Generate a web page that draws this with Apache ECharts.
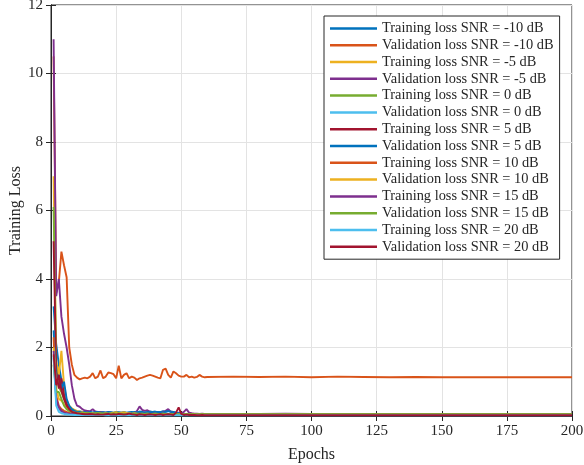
<!DOCTYPE html>
<html>
<head>
<meta charset="utf-8">
<script src="https://cdn.jsdelivr.net/npm/echarts@6/dist/echarts.min.js"></script>
<style>
  html, body { margin: 0; padding: 0; background: #fff; }
  #chart { width: 584px; height: 465px; }
</style>
</head>
<body>
<div id="chart"></div>
<script>
// epochs 1..60, then every 10 up to 200
var epochs = [
  1, 2, 3, 4, 5, 6, 7, 8, 9, 10,
  11, 12, 13, 14, 15, 16, 17, 18, 19, 20,
  21, 22, 23, 24, 25, 26, 27, 28, 29, 30,
  31, 32, 33, 34, 35, 36, 37, 38, 39, 40,
  41, 42, 43, 44, 45, 46, 47, 48, 49, 50,
  51, 52, 53, 54, 55, 56, 57, 58, 59, 60,
  70, 80, 90, 100, 110, 120, 130, 140, 150, 160, 170, 180, 190, 200
];

var xTicks = [0, 25, 50, 75, 100, 125, 150, 175, 200];
var yTicks = [0, 2, 4, 6, 8, 10, 12];

var names = [
  'Training loss SNR = -10 dB', 'Validation loss SNR = -10 dB',
  'Training loss SNR = -5 dB', 'Validation loss SNR = -5 dB',
  'Training loss SNR = 0 dB', 'Validation loss SNR = 0 dB',
  'Training loss SNR = 5 dB', 'Validation loss SNR = 5 dB',
  'Training loss SNR = 10 dB', 'Validation loss SNR = 10 dB',
  'Training loss SNR = 15 dB', 'Validation loss SNR = 15 dB',
  'Training loss SNR = 20 dB', 'Validation loss SNR = 20 dB'
];

// matlab default line colours, cycled
var colors = ['#0072BD', '#D95319', '#EDB120', '#7E2F8E', '#77AC30', '#4DBEEE', '#A2142F',
              '#0072BD', '#D95319', '#EDB120', '#7E2F8E', '#77AC30', '#4DBEEE', '#A2142F'];

var trainM10 = [
  3.2, 2.1, 1.5, 1.05, 0.6, 0.4, 0.28, 0.2, 0.16, 0.14,
  0.13, 0.12, 0.12, 0.11, 0.11, 0.1, 0.12, 0.1, 0.1, 0.09,
  0.1, 0.09, 0.1, 0.09, 0.08, 0.1, 0.09, 0.09, 0.08, 0.09,
  0.1, 0.12, 0.1, 0.13, 0.12, 0.1, 0.11, 0.13, 0.12, 0.1,
  0.12, 0.11, 0.14, 0.12, 0.15, 0.13, 0.12, 0.1, 0.08, 0.07,
  0.06, 0.06, 0.05, 0.05, 0.05, 0.05, 0.04, 0.05, 0.04, 0.04,
  0.04, 0.04, 0.03, 0.04, 0.03, 0.03, 0.03, 0.03, 0.03, 0.03, 0.03, 0.03, 0.03, 0.03
];
var valM10 = [
  10.5, 3.6, 3.9, 4.8, 4.4, 4.05, 2.0, 1.5, 1.2, 1.12,
  1.07, 1.1, 1.12, 1.1, 1.15, 1.25, 1.1, 1.15, 1.33, 1.1,
  1.15, 1.27, 1.25, 1.22, 1.1, 1.47, 1.1, 1.2, 1.25, 1.1,
  1.15, 1.12, 1.05, 1.1, 1.12, 1.15, 1.18, 1.2, 1.18, 1.15,
  1.12, 1.1, 1.35, 1.38, 1.2, 1.12, 1.3, 1.25, 1.18, 1.15,
  1.15, 1.2, 1.13, 1.15, 1.12, 1.14, 1.2, 1.15, 1.13, 1.14,
  1.15, 1.14, 1.15, 1.13, 1.15, 1.14, 1.13, 1.14, 1.13, 1.13, 1.13, 1.13, 1.13, 1.13
];
var trainM5 = [
  7.0, 1.6, 1.2, 1.9, 0.9, 0.45, 0.3, 0.22, 0.18, 0.15,
  0.13, 0.12, 0.1, 0.1, 0.09, 0.08, 0.08, 0.07, 0.07, 0.06,
  0.07, 0.06, 0.06, 0.07, 0.08, 0.06, 0.05, 0.06, 0.08, 0.06,
  0.05, 0.06, 0.05, 0.05, 0.06, 0.07, 0.06, 0.05, 0.06, 0.05,
  0.05, 0.05, 0.06, 0.05, 0.05, 0.06, 0.05, 0.04, 0.05, 0.04,
  0.04, 0.05, 0.04, 0.04, 0.05, 0.04, 0.04, 0.04, 0.04, 0.04,
  0.04, 0.05, 0.04, 0.04, 0.04, 0.05, 0.04, 0.04, 0.04, 0.04, 0.04, 0.04, 0.04, 0.04
];
var valM5 = [
  11.0, 3.5, 4.0, 2.9, 2.4, 2.0, 1.5, 0.9, 0.5, 0.3,
  0.27, 0.2, 0.16, 0.15, 0.14, 0.2, 0.13, 0.12, 0.12, 0.11,
  0.1, 0.11, 0.1, 0.09, 0.1, 0.09, 0.1, 0.09, 0.08, 0.08,
  0.07, 0.08, 0.15, 0.28, 0.18, 0.15, 0.17, 0.12, 0.1, 0.09,
  0.08, 0.1, 0.12, 0.15, 0.2, 0.12, 0.1, 0.08, 0.1, 0.08,
  0.12, 0.2, 0.1, 0.08, 0.07, 0.07, 0.06, 0.07, 0.06, 0.06,
  0.06, 0.06, 0.07, 0.06, 0.06, 0.06, 0.06, 0.05, 0.06, 0.05, 0.05, 0.05, 0.05, 0.05
];
var train0 = [
  6.1, 1.4, 0.85, 0.7, 0.5, 0.3, 0.2, 0.15, 0.12, 0.1,
  0.09, 0.08, 0.08, 0.07, 0.07, 0.06, 0.06, 0.06, 0.05, 0.05,
  0.05, 0.05, 0.06, 0.05, 0.05, 0.04, 0.05, 0.05, 0.04, 0.05,
  0.04, 0.04, 0.05, 0.04, 0.04, 0.05, 0.04, 0.04, 0.04, 0.04,
  0.04, 0.04, 0.05, 0.04, 0.04, 0.04, 0.04, 0.03, 0.04, 0.03,
  0.03, 0.04, 0.03, 0.03, 0.03, 0.03, 0.03, 0.03, 0.03, 0.03,
  0.03, 0.03, 0.03, 0.03, 0.03, 0.03, 0.03, 0.03, 0.03, 0.03, 0.03, 0.03, 0.03, 0.03
];
var val0 = [
  1.75, 0.4, 0.2, 0.12, 0.09, 0.07, 0.06, 0.05, 0.05, 0.04,
  0.04, 0.04, 0.04, 0.03, 0.04, 0.03, 0.03, 0.04, 0.03, 0.03,
  0.03, 0.03, 0.04, 0.03, 0.03, 0.03, 0.03, 0.03, 0.03, 0.03,
  0.03, 0.03, 0.03, 0.03, 0.03, 0.03, 0.03, 0.03, 0.03, 0.03,
  0.03, 0.03, 0.03, 0.03, 0.03, 0.03, 0.03, 0.03, 0.03, 0.03,
  0.03, 0.03, 0.03, 0.03, 0.03, 0.03, 0.03, 0.03, 0.03, 0.03,
  0.03, 0.03, 0.03, 0.03, 0.03, 0.03, 0.03, 0.03, 0.03, 0.03, 0.03, 0.03, 0.03, 0.03
];
var train5 = [
  5.1, 1.3, 0.8, 1.1, 0.6, 0.35, 0.22, 0.15, 0.12, 0.1,
  0.09, 0.08, 0.08, 0.07, 0.07, 0.06, 0.06, 0.06, 0.05, 0.05,
  0.05, 0.06, 0.05, 0.05, 0.05, 0.05, 0.06, 0.05, 0.05, 0.04,
  0.05, 0.04, 0.04, 0.05, 0.04, 0.04, 0.05, 0.04, 0.04, 0.04,
  0.05, 0.04, 0.04, 0.04, 0.04, 0.05, 0.04, 0.04, 0.04, 0.04,
  0.04, 0.04, 0.04, 0.03, 0.04, 0.04, 0.03, 0.04, 0.04, 0.03,
  0.03, 0.04, 0.03, 0.03, 0.03, 0.03, 0.03, 0.03, 0.03, 0.03, 0.03, 0.03, 0.03, 0.03
];
var val5 = [
  2.5, 1.0, 1.2, 0.8, 1.0, 0.5, 0.3, 0.2, 0.15, 0.12,
  0.12, 0.1, 0.11, 0.1, 0.12, 0.1, 0.11, 0.12, 0.1, 0.11,
  0.1, 0.12, 0.11, 0.1, 0.12, 0.11, 0.1, 0.12, 0.1, 0.11,
  0.12, 0.1, 0.11, 0.12, 0.11, 0.1, 0.12, 0.11, 0.12, 0.13,
  0.11, 0.12, 0.1, 0.13, 0.14, 0.12, 0.11, 0.1, 0.08, 0.06,
  0.05, 0.05, 0.05, 0.04, 0.05, 0.04, 0.04, 0.05, 0.04, 0.04,
  0.04, 0.04, 0.04, 0.04, 0.04, 0.04, 0.04, 0.04, 0.04, 0.04, 0.04, 0.04, 0.04, 0.04
];
var train10 = [
  2.3, 0.6, 0.3, 0.2, 0.15, 0.12, 0.1, 0.08, 0.07, 0.06,
  0.06, 0.05, 0.05, 0.05, 0.05, 0.04, 0.05, 0.04, 0.04, 0.04,
  0.04, 0.04, 0.04, 0.04, 0.04, 0.04, 0.04, 0.04, 0.04, 0.04,
  0.04, 0.03, 0.04, 0.03, 0.03, 0.04, 0.03, 0.03, 0.03, 0.03,
  0.03, 0.03, 0.03, 0.03, 0.03, 0.03, 0.03, 0.03, 0.03, 0.03,
  0.03, 0.03, 0.03, 0.03, 0.03, 0.03, 0.03, 0.03, 0.03, 0.03,
  0.03, 0.03, 0.03, 0.03, 0.03, 0.03, 0.03, 0.03, 0.03, 0.03, 0.03, 0.03, 0.03, 0.03
];
var val10 = [
  2.0, 0.8, 0.5, 0.45, 0.35, 0.25, 0.15, 0.12, 0.1, 0.09,
  0.08, 0.08, 0.09, 0.08, 0.07, 0.08, 0.07, 0.08, 0.07, 0.07,
  0.08, 0.07, 0.08, 0.1, 0.11, 0.09, 0.1, 0.11, 0.09, 0.08,
  0.07, 0.08, 0.07, 0.06, 0.07, 0.06, 0.07, 0.06, 0.06, 0.07,
  0.06, 0.06, 0.07, 0.06, 0.06, 0.05, 0.06, 0.05, 0.06, 0.05,
  0.05, 0.05, 0.05, 0.05, 0.05, 0.05, 0.05, 0.05, 0.05, 0.05,
  0.05, 0.05, 0.05, 0.05, 0.05, 0.05, 0.05, 0.05, 0.05, 0.05, 0.05, 0.05, 0.05, 0.05
];
var train15 = [
  1.9, 0.5, 0.25, 0.15, 0.1, 0.08, 0.07, 0.06, 0.05, 0.05,
  0.04, 0.04, 0.04, 0.04, 0.04, 0.04, 0.04, 0.04, 0.04, 0.04,
  0.04, 0.04, 0.04, 0.04, 0.04, 0.04, 0.04, 0.04, 0.04, 0.04,
  0.04, 0.04, 0.04, 0.04, 0.04, 0.04, 0.04, 0.04, 0.04, 0.04,
  0.04, 0.04, 0.04, 0.04, 0.04, 0.04, 0.04, 0.04, 0.04, 0.04,
  0.04, 0.04, 0.04, 0.04, 0.04, 0.04, 0.04, 0.04, 0.04, 0.04,
  0.04, 0.04, 0.04, 0.04, 0.04, 0.04, 0.04, 0.04, 0.04, 0.04, 0.04, 0.04, 0.04, 0.04
];
var val15 = [
  1.5, 0.7, 0.7, 0.5, 0.3, 0.2, 0.15, 0.12, 0.1, 0.1,
  0.09, 0.08, 0.08, 0.09, 0.08, 0.07, 0.08, 0.09, 0.08, 0.07,
  0.08, 0.07, 0.07, 0.08, 0.07, 0.08, 0.07, 0.07, 0.06, 0.07,
  0.06, 0.07, 0.06, 0.07, 0.06, 0.06, 0.07, 0.06, 0.06, 0.06,
  0.06, 0.06, 0.06, 0.05, 0.06, 0.05, 0.06, 0.05, 0.05, 0.05,
  0.05, 0.05, 0.05, 0.05, 0.05, 0.05, 0.05, 0.05, 0.05, 0.05,
  0.05, 0.05, 0.05, 0.05, 0.05, 0.05, 0.05, 0.05, 0.05, 0.05, 0.05, 0.05, 0.05, 0.05
];
var train20 = [
  1.7, 0.3, 0.12, 0.08, 0.06, 0.05, 0.04, 0.04, 0.03, 0.03,
  0.03, 0.03, 0.03, 0.03, 0.03, 0.03, 0.03, 0.03, 0.03, 0.03,
  0.02, 0.02, 0.02, 0.02, 0.02, 0.02, 0.02, 0.02, 0.02, 0.02,
  0.02, 0.02, 0.02, 0.02, 0.02, 0.02, 0.02, 0.02, 0.02, 0.02,
  0.02, 0.02, 0.02, 0.02, 0.02, 0.02, 0.02, 0.02, 0.02, 0.02,
  0.02, 0.02, 0.02, 0.02, 0.02, 0.02, 0.02, 0.02, 0.02, 0.02,
  0.02, 0.02, 0.02, 0.02, 0.02, 0.02, 0.02, 0.02, 0.02, 0.02, 0.02, 0.02, 0.02, 0.02
];
var val20 = [
  1.8, 0.9, 1.2, 0.75, 0.5, 0.3, 0.2, 0.12, 0.1, 0.08,
  0.07, 0.06, 0.05, 0.05, 0.06, 0.05, 0.04, 0.05, 0.04, 0.04,
  0.05, 0.06, 0.04, 0.05, 0.04, 0.06, 0.05, 0.04, 0.05, 0.07,
  0.05, 0.04, 0.03, 0.05, 0.04, 0.03, 0.04, 0.05, 0.04, 0.03,
  0.04, 0.05, 0.03, 0.04, 0.05, 0.04, 0.03, 0.1, 0.25, 0.06,
  0.03, 0.04, 0.03, 0.03, 0.03, 0.02, 0.02, 0.03, 0.02, 0.02,
  0.02, 0.02, 0.02, 0.02, 0.02, 0.02, 0.02, 0.02, 0.02, 0.02, 0.02, 0.02, 0.02, 0.02
];

var seriesValues = [trainM10, valM10, trainM5, valM5, train0, val0, train5, val5,
                    train10, val10, train15, val15, train20, val20];

var font = '"Liberation Serif", "Times New Roman", serif';
var ink = '#262626';

var chart = echarts.init(document.getElementById('chart'), null, { renderer: 'canvas' });

var series = seriesValues.map(function (vals, i) {
  return {
    name: names[i],
    type: 'line',
    xAxisIndex: 0,
    yAxisIndex: 0,
    symbol: 'none',
    animation: false,
    color: colors[i],
    lineStyle: { width: 1.9, color: colors[i] },
    data: vals.map(function (v, k) { return [epochs[k], v]; })
  };
});

function baseX(pos, showLabel) {
  return {
    type: 'value', position: pos, min: 0, max: 200, interval: 25,
    axisLine: { show: true, lineStyle: { color: ink, width: 1 } },
    axisTick: { show: true, inside: true, length: 5, lineStyle: { color: ink } },
    axisLabel: { show: showLabel, color: ink, fontFamily: font, fontSize: 15, margin: 8 },
    splitLine: { show: showLabel, lineStyle: { color: '#e3e3e3', width: 1 } }
  };
}
function baseY(pos, showLabel) {
  return {
    type: 'value', position: pos, min: 0, max: 12, interval: 2,
    axisLine: { show: true, lineStyle: { color: ink, width: 1 } },
    axisTick: { show: true, inside: true, length: 5, lineStyle: { color: ink } },
    axisLabel: { show: showLabel, color: ink, fontFamily: font, fontSize: 15, margin: 8 },
    splitLine: { show: showLabel, lineStyle: { color: '#e3e3e3', width: 1 } }
  };
}

var xMain = baseX('bottom', true);
xMain.name = 'Epochs';
xMain.nameLocation = 'middle';
xMain.nameGap = 31;
xMain.nameTextStyle = { color: ink, fontFamily: font, fontSize: 16 };

var yMain = baseY('left', true);
yMain.name = 'Training Loss';
yMain.nameLocation = 'middle';
yMain.nameGap = 27;
yMain.nameMoveOverlap = false;
yMain.nameTextStyle = { color: ink, fontFamily: font, fontSize: 16 };

chart.setOption({
  backgroundColor: '#fff',
  animation: false,
  grid: {
    left: 51, right: 12, top: 5, bottom: 49,
    outerBoundsMode: 'none', containLabel: false,
    show: true, borderColor: ink, borderWidth: 1, backgroundColor: '#fff'
  },
  xAxis: [xMain, baseX('top', false)],
  yAxis: [yMain, baseY('right', false)],
  legend: {
    data: names,
    orient: 'vertical',
    left: 324,
    top: 16,
    padding: [4, 6, 4, 6],
    itemGap: 0,
    itemWidth: 47,
    itemHeight: 2.5,
    icon: 'rect',
    backgroundColor: '#fff',
    borderColor: ink,
    borderWidth: 1,
    borderRadius: 0,
    textStyle: { color: ink, fontFamily: font, fontSize: 14.4, lineHeight: 16.8, padding: [0, 0, 0, 0] }
  },
  series: series
});
</script>
</body>
</html>
